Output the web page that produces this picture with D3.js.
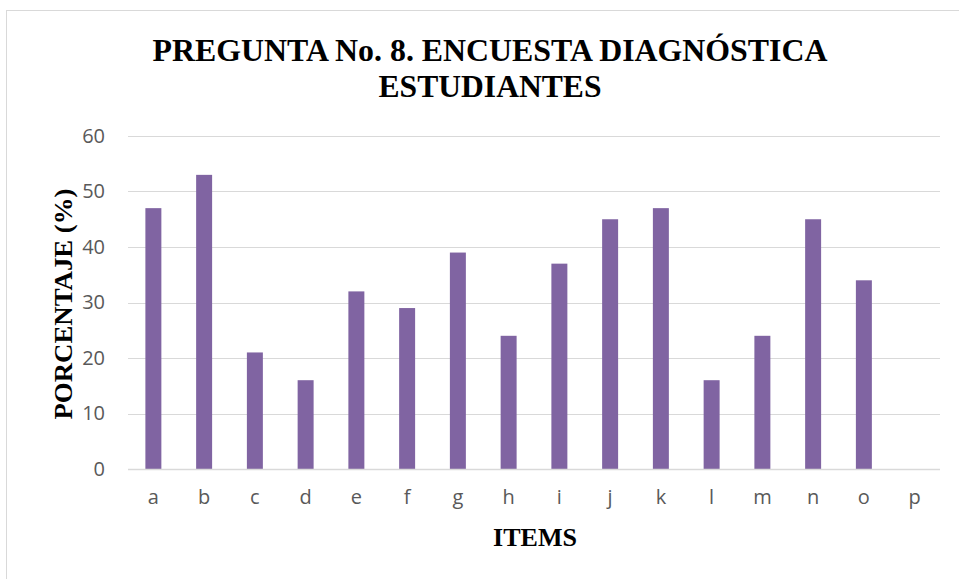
<!DOCTYPE html>
<html>
<head>
<meta charset="utf-8">
<script src="https://cdn.jsdelivr.net/npm/d3@7"></script>
<style>
  body { margin: 0; background: #fff; }
  svg { display: block; }
</style>
</head>
<body>
<svg id="chart" width="959" height="579"></svg>
<script>
  var items = ['a', 'b', 'c', 'd', 'e', 'f', 'g', 'h', 'i', 'j', 'k', 'l', 'm', 'n', 'o', 'p'];
  var porcentaje = [47, 53, 21, 16, 32, 29, 39, 24, 37, 45, 47, 16, 24, 45, 34, 0];
  var yTicks = [0, 10, 20, 30, 40, 50, 60];

  var svg = d3.select('#chart');
  var margin = { top: 136, right: 19, bottom: 110, left: 128 };
  var width = 959 - margin.left - margin.right;
  var height = 579 - margin.top - margin.bottom;

  // chart border
  svg.append('rect')
    .attr('x', 6.5).attr('y', 10.5)
    .attr('width', 960).attr('height', 580)
    .attr('fill', '#fff')
    .attr('stroke', '#d9d9d9');

  var g = svg.append('g').attr('transform', 'translate(' + margin.left + ',' + margin.top + ')');

  var x = d3.scaleBand().domain(items).range([0, width]).paddingInner(0.685).paddingOuter(0.3425);
  var y = d3.scaleLinear().domain([0, 60]).range([height, 0]);

  g.append('g')
    .selectAll('line')
    .data(yTicks.slice(1))
    .enter()
    .append('line')
    .attr('x1', 0).attr('x2', width)
    .attr('y1', function (d) { return Math.round(y(d)) + 0.5; })
    .attr('y2', function (d) { return Math.round(y(d)) + 0.5; })
    .attr('stroke', '#d9d9d9')
    .attr('stroke-width', 1);

  g.selectAll('.bar')
    .data(porcentaje)
    .enter()
    .append('rect')
    .attr('class', 'bar')
    .attr('x', function (d, i) { return x(items[i]); })
    .attr('width', x.bandwidth())
    .attr('y', function (d) { return y(d); })
    .attr('height', function (d) { return height - y(d); })
    .attr('fill', '#8064a2');

  g.append('line')
    .attr('x1', 0).attr('x2', width)
    .attr('y1', height + 0.5).attr('y2', height + 0.5)
    .attr('stroke', '#d9d9d9')
    .attr('stroke-width', 1.5);

  var sans = '"Open Sans", "Noto Sans", sans-serif';

  var yAxis = g.append('g')
    .call(d3.axisLeft(y).tickValues(yTicks).tickSize(0).tickPadding(23));
  yAxis.select('.domain').remove();
  yAxis.selectAll('text')
    .attr('fill', '#595959')
    .style('font-family', sans)
    .style('font-size', '20px');

  var xAxis = g.append('g')
    .attr('transform', 'translate(0,' + height + ')')
    .call(d3.axisBottom(x).tickSize(0).tickPadding(21));
  xAxis.select('.domain').remove();
  xAxis.selectAll('text')
    .attr('fill', '#595959')
    .style('font-family', sans)
    .style('font-size', '20px');

  var serif = '"Liberation Serif", "Times New Roman", serif';

  svg.append('text')
    .attr('x', 490).attr('y', 61)
    .attr('text-anchor', 'middle')
    .attr('textLength', 675)
    .attr('lengthAdjust', 'spacingAndGlyphs')
    .style('font-family', serif)
    .style('font-weight', 'bold')
    .style('font-size', '32px')
    .text('PREGUNTA No. 8. ENCUESTA DIAGNÓSTICA');

  svg.append('text')
    .attr('x', 490).attr('y', 97)
    .attr('text-anchor', 'middle')
    .attr('textLength', 223)
    .attr('lengthAdjust', 'spacingAndGlyphs')
    .style('font-family', serif)
    .style('font-weight', 'bold')
    .style('font-size', '32px')
    .text('ESTUDIANTES');

  svg.append('text')
    .attr('transform', 'translate(72,304) rotate(-90)')
    .attr('text-anchor', 'middle')
    .attr('textLength', 231)
    .attr('lengthAdjust', 'spacingAndGlyphs')
    .style('font-family', serif)
    .style('font-weight', 'bold')
    .style('font-size', '26px')
    .text('PORCENTAJE (%)');

  svg.append('text')
    .attr('x', 535).attr('y', 546)
    .attr('text-anchor', 'middle')
    .style('font-family', serif)
    .style('font-weight', 'bold')
    .style('font-size', '26px')
    .text('ITEMS');
</script>
</body>
</html>
